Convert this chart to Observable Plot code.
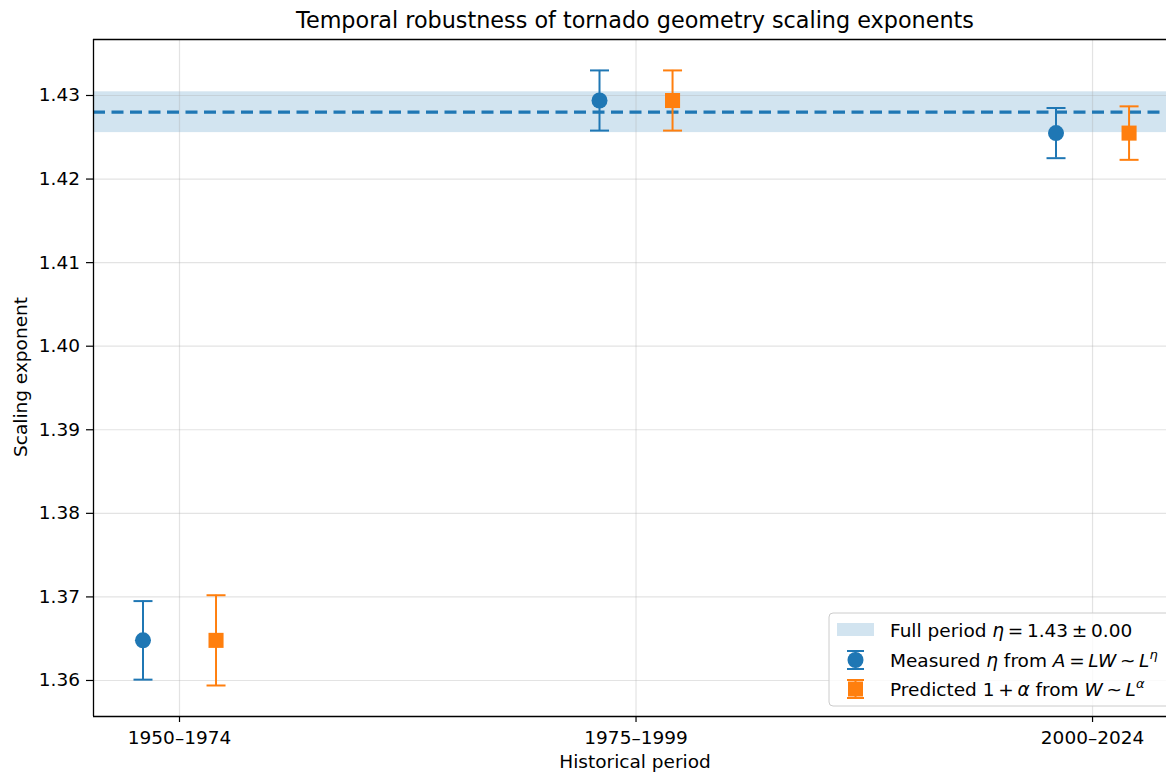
<!DOCTYPE html>
<html><head><meta charset="utf-8">
<script src="https://cdn.jsdelivr.net/npm/d3@7"></script>
<script src="https://cdn.jsdelivr.net/npm/@observablehq/plot@0.6"></script>
<style>body{margin:0;background:#fff} svg{display:block}</style>
</head><body><div id="chart"></div>
<script>
// ---- data ----
const periods = ["1950–1974", "1975–1999", "2000–2024"];
const measuredEta = [1.3648, 1.4294, 1.4255];
const measuredErr = [0.0047, 0.0036, 0.0030];
const predictedEta = [1.3648, 1.4294, 1.4255];
const predictedErr = [0.0054, 0.0036, 0.0032];
const fullEta = 1.4280;
const fullErr = 0.00244;
const yTicks = [1.36, 1.37, 1.38, 1.39, 1.40, 1.41, 1.42, 1.43];
const groupOffset = 0.08;

const title = "Temporal robustness of tornado geometry scaling exponents";
const xLabel = "Historical period";
const yLabel = "Scaling exponent";

const blue = "#1f77b4", orange = "#ff7f0e";
const xDomain = [-0.1884, 2.162];
const yDomain = [1.35569, 1.4367];

const rows = periods.flatMap((p, i) => [
  {x: i - groupOffset, y: measuredEta[i], err: measuredErr[i], s: "m"},
  {x: i + groupOffset, y: predictedEta[i], err: predictedErr[i], s: "p"}
]);
const band = [{lo: fullEta - fullErr, hi: fullEta + fullErr}];

const capSymbol = {draw(ctx, size) { const r = 9.5; ctx.moveTo(-r, 0); ctx.lineTo(r, 0); }};
const col = d => d.s === "m" ? blue : orange;
const FS = 18.5;

const W = 1166, H = 774;
const chart = Plot.plot({
  width: W, height: H,
  marginLeft: 93, marginRight: 0, marginTop: 39, marginBottom: 58,
  style: {fontFamily: "DejaVu Sans", fontSize: FS + "px", color: "#000", background: "#fff"},
  x: {domain: xDomain},
  y: {domain: yDomain},
  marks: [
    Plot.rect(band, {x1: () => xDomain[0], x2: () => xDomain[1], y1: "lo", y2: "hi", fill: blue, fillOpacity: 0.2}),
    Plot.gridX([0, 1, 2], {stroke: "#b0b0b0", strokeOpacity: 0.35, strokeWidth: 1.2}),
    Plot.gridY(yTicks, {stroke: "#b0b0b0", strokeOpacity: 0.35, strokeWidth: 1.2}),
    Plot.ruleY([fullEta], {stroke: blue, strokeWidth: 3.3, strokeDasharray: "12,6.5"}),
    Plot.ruleX(rows, {x: "x", y1: d => d.y - d.err, y2: d => d.y + d.err, stroke: col, strokeWidth: 2}),
    Plot.dot(rows, {x: "x", y: d => d.y - d.err, symbol: capSymbol, stroke: col, strokeWidth: 2, r: 5}),
    Plot.dot(rows, {x: "x", y: d => d.y + d.err, symbol: capSymbol, stroke: col, strokeWidth: 2, r: 5}),
    Plot.dot(rows.filter(d => d.s === "m"), {x: "x", y: "y", r: 8, fill: blue, symbol: "circle"}),
    Plot.dot(rows.filter(d => d.s === "p"), {x: "x", y: "y", r: 8.5, fill: orange, symbol: "square"}),
    Plot.ruleX([xDomain[0]], {stroke: "#000", strokeWidth: 1.3}),
    Plot.ruleY([yDomain[0], yDomain[1]], {stroke: "#000", strokeWidth: 1.3}),
    Plot.axisY({ticks: yTicks, tickFormat: d3.format(".2f"), tickSize: 7, tickPadding: 6.5, label: null, stroke: "#000", strokeWidth: 1.2, fill: "#000"}),
    Plot.axisX({ticks: [0, 1, 2], tickFormat: i => periods[i], tickSize: 6, tickPadding: 8, label: null, stroke: "#000", strokeWidth: 1.2, fill: "#000"})
  ]
});
document.getElementById("chart").append(chart);

const svg = d3.select(chart);
const ff = "DejaVu Sans";
svg.append("text").attr("x", 635).attr("y", 28).attr("text-anchor", "middle")
  .attr("font-family", ff).attr("font-size", 22.3).attr("fill", "#000").text(title);
svg.append("text").attr("x", 635).attr("y", 768).attr("text-anchor", "middle")
  .attr("font-family", ff).attr("font-size", FS).attr("fill", "#000").text(xLabel);
svg.append("text").attr("transform", "translate(26.5,377) rotate(-90)").attr("text-anchor", "middle")
  .attr("font-family", ff).attr("font-size", FS).attr("fill", "#000").text(yLabel);

// legend
const lg = svg.append("g").attr("font-family", ff).attr("font-size", FS).attr("fill", "#000").attr("text-anchor", "start");
lg.append("rect").attr("x", 829).attr("y", 613).attr("width", 360).attr("height", 93).attr("rx", 4)
  .attr("fill", "#fff").attr("fill-opacity", 0.8).attr("stroke", "#cccccc").attr("stroke-width", 1);
lg.append("rect").attr("x", 837).attr("y", 623).attr("width", 37).attr("height", 13).attr("fill", blue).attr("fill-opacity", 0.2);
function errIcon(cy, color, square) {
  const cx = 855.5;
  lg.append("line").attr("x1", cx).attr("x2", cx).attr("y1", cy - 9).attr("y2", cy + 9).attr("stroke", color).attr("stroke-width", 2);
  [-9, 9].forEach(o => lg.append("line").attr("x1", cx - 8.5).attr("x2", cx + 8.5).attr("y1", cy + o).attr("y2", cy + o).attr("stroke", color).attr("stroke-width", 2));
  if (square) lg.append("rect").attr("x", cx - 7.5).attr("y", cy - 7.5).attr("width", 15).attr("height", 15).attr("fill", color);
  else lg.append("circle").attr("cx", cx).attr("cy", cy).attr("r", 8).attr("fill", color);
}
errIcon(660, blue, false);
errIcon(689, orange, true);
function richText(y, parts) {
  const t = lg.append("text").attr("x", 890).attr("y", y);
  parts.forEach(p => {
    const s = t.append("tspan").text(p.t);
    if (p.i) s.attr("font-style", "italic");
    if (p.sup) s.attr("font-size", 13).attr("dy", -8);
  });
}
const ts = "\u2009";
richText(636.5, [{t: "Full period "}, {t: "η", i: 1}, {t: ts + "=" + ts + "1.43" + ts + "±" + ts + "0.00"}]);
richText(666.5, [{t: "Measured "}, {t: "η", i: 1}, {t: " from "}, {t: "A", i: 1}, {t: ts + "=" + ts}, {t: "LW", i: 1}, {t: ts + "~" + ts}, {t: "L", i: 1}, {t: "η", i: 1, sup: 1}]);
richText(695.5, [{t: "Predicted 1" + ts + "+" + ts}, {t: "α", i: 1}, {t: " from "}, {t: "W", i: 1}, {t: ts + "~" + ts}, {t: "L", i: 1}, {t: "α", i: 1, sup: 1}]);
</script>
</body></html>
